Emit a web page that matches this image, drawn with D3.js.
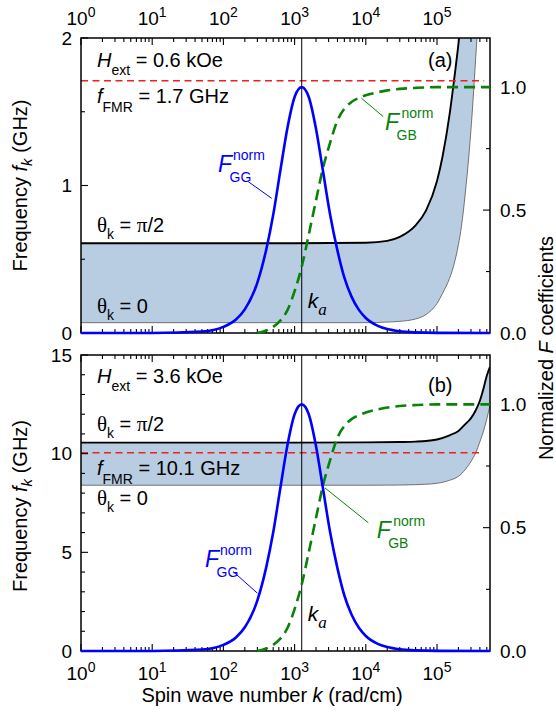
<!DOCTYPE html>
<html><head><meta charset="utf-8">
<script src="https://cdn.jsdelivr.net/npm/d3@7"></script>
<style>
html,body{margin:0;padding:0;background:#fff;}
svg{display:block;font-family:Arial,"Liberation Sans",sans-serif;}
text{white-space:pre;}
</style></head><body>
<svg id="chart" width="556" height="713"></svg>
<script>
// ---------------- data ----------------
const kRange = [1, 5.55e5];
const xMajorTicks = [1, 10, 100, 1000, 10000, 100000];
const xTickExponents = ["0", "1", "2", "3", "4", "5"];
const kA = 1259;

// normalized F_GG (right axis)
const kGG = [1, 10, 50, 100, 150, 200, 300, 400, 500, 630, 800, 1000, 1259, 1580, 2000, 2500, 3160, 4000, 5000, 6300, 8000, 10000, 15000, 20000, 30000, 50000, 100000, 555000];
const fGG = [0, 0.0003, 0.006, 0.025, 0.055, 0.096, 0.205, 0.34, 0.48, 0.66, 0.84, 0.96, 1.0, 0.96, 0.83, 0.66, 0.48, 0.335, 0.225, 0.148, 0.094, 0.061, 0.028, 0.016, 0.007, 0.0025, 0.0006, 0];

// normalized F_GB (right axis)
const kGB = [300, 400, 500, 630, 800, 1000, 1259, 1580, 2000, 2500, 3160, 4000, 5000, 6300, 8000, 10000, 15000, 20000, 30000, 50000, 100000, 555000];
const fGB = [0, 0.01, 0.025, 0.05, 0.095, 0.17, 0.27, 0.40, 0.54, 0.67, 0.775, 0.865, 0.912, 0.94, 0.956, 0.967, 0.98, 0.987, 0.993, 0.997, 1.0, 1.0];

// panel (a): H_ext = 0.6 kOe
const kBandA = [1, 1000, 10000, 20000, 30000, 50000, 70000, 100000, 120000, 150000, 170000, 200000, 220000, 250000, 280000, 320000, 350000, 380000, 420000, 555000];
const fUpperA = [0.608, 0.608, 0.612, 0.625, 0.652, 0.73, 0.83, 1.03, 1.2, 1.48, 1.68, 1.96, 2.15, 2.45, 2.75, 3.1, 3.4, 3.7, 4.1, 5.2];
const fLowerA = [0.07, 0.07, 0.07, 0.074, 0.079, 0.095, 0.125, 0.2, 0.27, 0.37, 0.45, 0.6, 0.72, 0.95, 1.2, 1.57, 1.87, 2.15, 2.6, 4.5];

// panel (b): H_ext = 3.6 kOe
const kBandB = [1, 1000, 10000, 30000, 50000, 70000, 100000, 150000, 200000, 250000, 300000, 350000, 400000, 450000, 500000, 555000];
const fUpperB = [10.56, 10.56, 10.57, 10.59, 10.61, 10.64, 10.72, 10.93, 11.15, 11.5, 11.8, 12.2, 12.68, 13.3, 13.95, 14.4];
const fLowerB = [8.40, 8.40, 8.40, 8.41, 8.43, 8.45, 8.5, 8.65, 8.85, 9.2, 9.6, 10.05, 10.6, 11.15, 11.75, 12.45];

const panelLabels = ["(a)", "(b)"];
const hextLabels = [" = 0.6 kOe", " = 3.6 kOe"];
const fmrLabels = [" = 1.7 GHz", " = 10.1 GHz"];
const fmrValues = [1.71, 10.05];
const fmrEndK = [4.6e5, 4.35e5];
const freqDomains = [[0, 2], [0, 15]];
const freqMajorTicks = [[0, 1, 2], [0, 5, 10, 15]];
const freqMinorTicks = [[0.5, 1.5], [1, 2, 3, 4, 6, 7, 8, 9, 11, 12, 13, 14]];
const normDomain = [0, 1.2];
const normMajorTicks = [0, 0.5, 1.0];
const normMinorTicks = [0.25, 0.75];

// leader-line anchors on curves [k, value]
const ggAnchors = [[476, 0.548], [300, 0.2345]];
const gbAnchors = [[8700, 0.955], [2670, 0.661]];

// ---------------- layout ----------------
const L = 81, R = 490;
const panelsY = [[38, 333], [355, 651]];
const BLUE = "#0000ff", GREEN = "#0a820a", RED = "#f02020", FILL = "#b8cce2";

const svg = d3.select("#chart");
const x = d3.scaleLog().domain(kRange).range([L, R]);

function rich(g, xx, yy, parts, opts = {}) {
  const t = g.append("text").attr("x", xx).attr("y", yy)
    .attr("font-size", opts.size || 20).attr("fill", opts.fill || "#000")
    .attr("text-anchor", opts.anchor || "start");
  parts.forEach(p => {
    const s = t.append("tspan").text(p.t);
    if (p.size) s.attr("font-size", p.size);
    if (p.italic) s.attr("font-style", "italic");
    if (p.dy) s.attr("dy", p.dy);
    if (p.family) s.attr("font-family", p.family);
  });
  return t;
}
const SERIF = "'Liberation Serif','DejaVu Serif',serif";

const bands = [
  {k: kBandA, hi: fUpperA, lo: fLowerA},
  {k: kBandB, hi: fUpperB, lo: fLowerB}
];

panelsY.forEach(([top, bot], p) => {
  const g = svg.append("g");
  const yF = d3.scaleLinear().domain(freqDomains[p]).range([bot, top]);
  const yN = d3.scaleLinear().domain(normDomain).range([bot, top]);

  const clipId = "clip" + p, clipId2 = "clipb" + p;
  svg.append("clipPath").attr("id", clipId).append("rect")
    .attr("x", L).attr("y", top).attr("width", R - L).attr("height", bot - top);
  svg.append("clipPath").attr("id", clipId2).append("rect")
    .attr("x", L).attr("y", top).attr("width", R - L).attr("height", bot - top + 3);

  const band = bands[p].k.map((k, i) => ({k, hi: bands[p].hi[i], lo: bands[p].lo[i]}));
  const cg = g.append("g").attr("clip-path", `url(#${clipId})`);
  cg.append("path").datum(band)
    .attr("d", d3.area().x(d => x(d.k)).y0(d => yF(d.lo)).y1(d => yF(d.hi)).curve(d3.curveMonotoneX))
    .attr("fill", FILL);
  cg.append("path").datum(band)
    .attr("d", d3.line().x(d => x(d.k)).y(d => yF(d.lo)).curve(d3.curveMonotoneX))
    .attr("fill", "none").attr("stroke", "#555").attr("stroke-width", 0.8);
  cg.append("path").datum(band)
    .attr("d", d3.line().x(d => x(d.k)).y(d => yF(d.hi)).curve(d3.curveMonotoneX))
    .attr("fill", "none").attr("stroke", "#000").attr("stroke-width", 1.9);

  // FMR line
  cg.append("line").attr("x1", x(kRange[0])).attr("x2", x(fmrEndK[p]))
    .attr("y1", yF(fmrValues[p])).attr("y2", yF(fmrValues[p]))
    .attr("stroke", RED).attr("stroke-width", 1.6).attr("stroke-dasharray", "7,4.5");

  // k_a line
  cg.append("line").attr("x1", x(kA)).attr("x2", x(kA)).attr("y1", top).attr("y2", bot)
    .attr("stroke", "#000").attr("stroke-width", 1);

  // frame
  g.append("rect").attr("x", L).attr("y", top).attr("width", R - L).attr("height", bot - top)
    .attr("fill", "none").attr("stroke", "#000").attr("stroke-width", 1.5);

  // x ticks (top and bottom of each panel)
  const xt = x.ticks();
  xt.forEach(t => {
    const major = xMajorTicks.includes(t);
    const len = major ? 7 : 4;
    const xx = x(t);
    if (xx > R + 0.5) return;
    g.append("line").attr("x1", xx).attr("x2", xx).attr("y1", bot).attr("y2", bot - len)
      .attr("stroke", "#000").attr("stroke-width", 1.1);
    g.append("line").attr("x1", xx).attr("x2", xx).attr("y1", top).attr("y2", top + len)
      .attr("stroke", "#000").attr("stroke-width", 1.1);
  });
  // left ticks
  freqMajorTicks[p].forEach(v => {
    g.append("line").attr("x1", L).attr("x2", L + 7).attr("y1", yF(v)).attr("y2", yF(v))
      .attr("stroke", "#000").attr("stroke-width", 1.1);
    g.append("text").attr("x", L - 9).attr("y", yF(v) + 6.5).attr("text-anchor", "end")
      .attr("font-size", 19).text(v);
  });
  freqMinorTicks[p].forEach(v => {
    g.append("line").attr("x1", L).attr("x2", L + 4).attr("y1", yF(v)).attr("y2", yF(v))
      .attr("stroke", "#000").attr("stroke-width", 1.1);
  });
  // right ticks
  normMajorTicks.forEach(v => {
    g.append("line").attr("x1", R).attr("x2", R - 7).attr("y1", yN(v)).attr("y2", yN(v))
      .attr("stroke", "#000").attr("stroke-width", 1.1);
    g.append("text").attr("x", R + 10).attr("y", yN(v) + 6.5).attr("text-anchor", "start")
      .attr("font-size", 19).text(d3.format(".1f")(v));
  });
  normMinorTicks.forEach(v => {
    g.append("line").attr("x1", R).attr("x2", R - 4).attr("y1", yN(v)).attr("y2", yN(v))
      .attr("stroke", "#000").attr("stroke-width", 1.1);
  });

  // curves on right axis (drawn over the frame)
  const cg2 = g.append("g").attr("clip-path", `url(#${clipId2})`);
  const gb = kGB.map((k, i) => ({k, v: fGB[i]}));
  cg2.append("path").datum(gb)
    .attr("d", d3.line().x(d => x(d.k)).y(d => yN(d.v)).curve(d3.curveMonotoneX))
    .attr("fill", "none").attr("stroke", GREEN).attr("stroke-width", 2.6)
    .attr("stroke-dasharray", "11,6");
  const gg = kGG.map((k, i) => ({k, v: fGG[i]}));
  cg2.append("path").datum(gg)
    .attr("d", d3.line().x(d => x(d.k)).y(d => yN(d.v)).curve(d3.curveMonotoneX))
    .attr("fill", "none").attr("stroke", BLUE).attr("stroke-width", 2.6);

  // x tick labels
  xMajorTicks.forEach((t, i) => {
    const yy = p === 0 ? 25 : 680;
    rich(g, x(t), yy, [{t: "10"}, {t: xTickExponents[i], size: 14, dy: -8}],
      {size: 19, anchor: "middle"});
  });

  // left axis title
  const cy = (top + bot) / 2 + (p === 0 ? 0 : 3);
  const lt = g.append("g").attr("transform", `translate(27,${cy}) rotate(-90)`);
  rich(lt, 0, 0, [{t: "Frequency "}, {t: "f", italic: true}, {t: "k", italic: true, size: 15, dy: 5},
    {t: " (GHz)", dy: -5}], {size: 20, anchor: "middle"});

  // annotations
  const ann = p === 0
    ? {h: 66.7, f: 103, t90: 231.7, t0: 313.3, lab: 67}
    : {h: 383.3, f: 475, t90: 431, t0: 505, lab: 391.7};
  rich(g, 97, ann.h, [{t: "H", italic: true}, {t: "ext", size: 14, dy: 8}, {t: hextLabels[p], dy: -8}]);
  rich(g, 97, ann.f, [{t: "f", italic: true}, {t: "FMR", size: 14, dy: 9}, {t: fmrLabels[p], dy: -9}]);
  rich(g, 97, ann.t90, [{t: "θ", family: SERIF, size: 21}, {t: "k", size: 14, dy: 7}, {t: " = ", dy: -7}, {t: "π", family: SERIF, size: 21}, {t: "/2"}]);
  rich(g, 97, ann.t0, [{t: "θ", family: SERIF, size: 21}, {t: "k", size: 14, dy: 7}, {t: " = 0", dy: -7}]);
  rich(g, 428, ann.lab, [{t: panelLabels[p]}]);
  rich(g, x(kA) + 6, p === 0 ? 308 : 621, [{t: "k", italic: true}, {t: "a", italic: true, family: SERIF, size: 17, dy: 7}], {size: 21});

  // F_GG label
  const ggPos = p === 0 ? {x: 218, y: 171.7, lx: 248.3, ly: 181.7} : {x: 205, y: 566.7, lx: 233.3, ly: 571.7};
  rich(g, ggPos.x, ggPos.y, [{t: "F", italic: true}], {size: 23, fill: BLUE});
  rich(g, ggPos.x + 15, ggPos.y - 12, [{t: "norm"}], {size: 14, fill: BLUE});
  rich(g, ggPos.x + 11.5, ggPos.y + 10, [{t: "GG"}], {size: 14, fill: BLUE});
  g.append("line").attr("x1", ggPos.lx).attr("y1", ggPos.ly)
    .attr("x2", x(ggAnchors[p][0])).attr("y2", yN(ggAnchors[p][1]))
    .attr("stroke", BLUE).attr("stroke-width", 1);

  // F_GB label
  const gbPos = p === 0 ? {x: 385, y: 130, lx: 383.3, ly: 116.7} : {x: 376.7, y: 538.3, lx: 368.3, ly: 522.7};
  rich(g, gbPos.x, gbPos.y, [{t: "F", italic: true}], {size: 23, fill: GREEN});
  rich(g, gbPos.x + 16.5, gbPos.y - 12, [{t: "norm"}], {size: 14, fill: GREEN});
  rich(g, gbPos.x + 11.5, gbPos.y + 10, [{t: "GB"}], {size: 14, fill: GREEN});
  g.append("line").attr("x1", gbPos.lx).attr("y1", gbPos.ly)
    .attr("x2", x(gbAnchors[p][0])).attr("y2", yN(gbAnchors[p][1]))
    .attr("stroke", GREEN).attr("stroke-width", 1);
});

// x axis title
rich(svg, 272, 702, [{t: "Spin wave number "}, {t: "k", italic: true}, {t: " (rad/cm)"}], {size: 20, anchor: "middle"});
// right axis title
const rt = svg.append("g").attr("transform", "translate(553,348) rotate(-90)");
rich(rt, 0, 0, [{t: "Normalized "}, {t: "F", italic: true}, {t: " coefficients"}], {size: 20, anchor: "middle"});
</script>
</body></html>
